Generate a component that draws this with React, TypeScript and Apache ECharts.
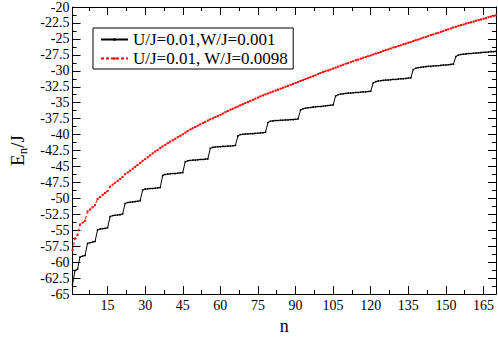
import { useEffect, useRef } from "react";
import * as echarts from "echarts";

// Energy levels E_n/J for n = 1..170
const blackE = [
  -63.5,
  -61.3, -61.1,
  -59.2, -59.05, -58.95,
  -57.05, -56.95, -56.85, -56.75,
  -54.95, -54.8, -54.75, -54.7, -54.6,
  -52.85, -52.7, -52.65, -52.6, -52.55, -52.45,
  -50.8, -50.65, -50.6, -50.55, -50.5, -50.45, -50.35,
  -48.7, -48.55, -48.5, -48.45, -48.45, -48.4, -48.35, -48.3,
  -46.4, -46.25, -46.2, -46.15, -46.1, -46.1, -46.05, -46.0, -45.95,
  -44.25, -44.1, -44.05, -44.0, -44.0, -43.95, -43.9, -43.9, -43.85, -43.8,
  -42.15, -42.0, -41.95, -41.9, -41.9, -41.85, -41.85, -41.8, -41.8, -41.75, -41.7,
  -40.2, -40.0, -39.95, -39.9, -39.9, -39.85, -39.85, -39.8, -39.8, -39.75, -39.7, -39.65,
  -38.1, -37.9, -37.85, -37.8, -37.8, -37.75, -37.75, -37.7, -37.7, -37.65, -37.65, -37.6, -37.55,
  -36.15, -35.95, -35.85, -35.8, -35.75, -35.7, -35.65, -35.6, -35.6, -35.55, -35.5, -35.45, -35.4, -35.35,
  -33.95, -33.75, -33.65, -33.6, -33.55, -33.5, -33.5, -33.45, -33.4, -33.4, -33.35, -33.3, -33.3, -33.25, -33.2,
  -31.9, -31.7, -31.6, -31.55, -31.5, -31.45, -31.45, -31.4, -31.35, -31.35, -31.3, -31.25, -31.25, -31.2, -31.15, -31.1,
  -29.8, -29.6, -29.5, -29.45, -29.4, -29.35, -29.3, -29.3, -29.25, -29.2, -29.2, -29.15, -29.1, -29.1, -29.05, -29.0, -28.95,
  -27.75, -27.55, -27.45, -27.4, -27.35, -27.3, -27.3, -27.25, -27.2, -27.2, -27.15, -27.1, -27.1, -27.05, -27.0, -27.0, -26.95,
];

const redE = [
  -58.1, -56.3, -55.75, -54.1, -53.8, -53.5, -52.05, -51.75, -51.4, -51.05,
  -50.1, -49.8, -49.45, -49.15, -48.85, -48.15, -47.85, -47.55, -47.25, -46.95,
  -46.65, -46.2, -45.95, -45.65, -45.35, -45.05, -44.75, -44.45, -44.1, -43.85,
  -43.55, -43.25, -42.95, -42.65, -42.4, -42.1, -41.85, -41.6, -41.35, -41.1,
  -40.9, -40.65, -40.4, -40.2, -39.95, -39.7, -39.45, -39.2, -39.0, -38.8,
  -38.6, -38.4, -38.2, -38.0, -37.8, -37.6, -37.45, -37.25, -37.1, -36.9,
  -36.7, -36.5, -36.3, -36.1, -35.95, -35.75, -35.6, -35.4, -35.25, -35.05,
  -34.9, -34.7, -34.55, -34.35, -34.2, -34.0, -33.85, -33.7, -33.55, -33.4,
  -33.25, -33.1, -32.95, -32.8, -32.65, -32.5, -32.35, -32.2, -32.05, -31.9,
  -31.75, -31.6, -31.45, -31.3, -31.15, -31.0, -30.85, -30.7, -30.5, -30.35,
  -30.2, -30.05, -29.95, -29.8, -29.65, -29.5, -29.35, -29.2, -29.05, -28.9,
  -28.8, -28.65, -28.5, -28.35, -28.25, -28.1, -27.95, -27.85, -27.7, -27.6,
  -27.45, -27.3, -27.2, -27.05, -26.9, -26.75, -26.65, -26.5, -26.35, -26.25,
  -26.1, -26.0, -25.85, -25.75, -25.6, -25.5, -25.35, -25.2, -25.1, -24.95,
  -24.8, -24.7, -24.55, -24.4, -24.3, -24.15, -24.05, -23.9, -23.75, -23.6,
  -23.5, -23.35, -23.2, -23.1, -22.95, -22.85, -22.75, -22.6, -22.5, -22.4,
  -22.3, -22.15, -22.05, -21.95, -21.85, -21.75, -21.6, -21.5, -21.4, -21.3,
];

const seriesNames = ["U/J=0.01,W/J=0.001", "U/J=0.01, W/J=0.0098"];
const xMajorTicks = [15, 30, 45, 60, 75, 90, 105, 120, 135, 150, 165];
const xMinorTicks = [7.5, 22.5, 37.5, 52.5, 67.5, 82.5, 97.5, 112.5, 127.5, 142.5, 157.5];

const FONT = "Liberation Serif";

function xAxisDef(position: string, ticks: number[], len: number, showLine: boolean, showLabel: boolean) {
  return {
    type: "value",
    position,
    min: 1,
    max: 170,
    axisLine: { show: showLine, onZero: false, lineStyle: { color: "#000", width: 1 } },
    axisTick: { show: true, inside: true, length: len, customValues: ticks, lineStyle: { color: "#000", width: 1 } },
    axisLabel: {
      show: showLabel,
      customValues: ticks,
      margin: 4,
      fontFamily: FONT,
      fontSize: 14,
      color: "#000",
    },
    splitLine: { show: false },
  };
}

function yAxisDef(position: string, showLabel: boolean) {
  return {
    type: "value",
    position,
    min: -65,
    max: -20,
    interval: 2.5,
    axisLine: { show: true, onZero: false, lineStyle: { color: "#000", width: 1 } },
    axisTick: { show: true, inside: true, length: 8, lineStyle: { color: "#000", width: 1 } },
    minorTick: { show: true, splitNumber: 2, length: 4, lineStyle: { color: "#000", width: 1 } },
    axisLabel: { show: showLabel, margin: 3, fontFamily: FONT, fontSize: 14, color: "#000" },
    splitLine: { show: false },
    minorSplitLine: { show: false },
  };
}

export default function App() {
  const ref = useRef<HTMLDivElement>(null);
  useEffect(() => {
    if (!ref.current) return;
    const chart = echarts.init(ref.current, null, { renderer: "svg" });
    const blackData = blackE.map((v, i) => [i + 1, v]);
    const redData = redE.map((v, i) => [i + 1, v]);
    chart.setOption({
      animation: false,
      backgroundColor: "#fff",
      grid: { left: 59, right: 2, top: 6, bottom: 29 },
      legend: {
        data: seriesNames,
        orient: "vertical",
        left: 93,
        top: 28,
        itemWidth: 27,
        itemHeight: 3,
        itemGap: 0,
        padding: [2, 5, 1, 7],
        borderColor: "#000",
        borderWidth: 1,
        borderRadius: 0,
        backgroundColor: "#fff",
        textStyle: { fontFamily: FONT, fontSize: 17, color: "#000", lineHeight: 19 },
      },
      xAxis: [
        { ...xAxisDef("bottom", xMajorTicks, 8, true, true), name: "n", nameLocation: "middle", nameGap: 13,
          nameTextStyle: { fontFamily: FONT, fontSize: 18, color: "#000" } },
        xAxisDef("bottom", xMinorTicks, 4, false, false),
        xAxisDef("top", xMajorTicks, 8, true, false),
        xAxisDef("top", xMinorTicks, 4, false, false),
      ],
      yAxis: [
        {
          ...yAxisDef("left", true),
          name: "{e|E}{s|n}{e|/J}",
          nameLocation: "middle",
          nameRotate: 90,
          nameGap: 44,
          nameTextStyle: {
            rich: {
              e: { fontFamily: FONT, fontSize: 19, color: "#000", lineHeight: 22, verticalAlign: "middle" },
              s: { fontFamily: FONT, fontSize: 13, color: "#000", lineHeight: 12, verticalAlign: "bottom" },
            },
          },
        },
        yAxisDef("right", false),
      ],
      series: [
        {
          name: seriesNames[0],
          type: "line",
          xAxisIndex: 0,
          yAxisIndex: 0,
          data: blackData,
          symbol: "rect",
          symbolSize: 1.6,
          lineStyle: { color: "#000", width: 1 },
          itemStyle: { color: "#000" },
        },
        {
          name: seriesNames[1],
          type: "line",
          xAxisIndex: 0,
          yAxisIndex: 0,
          data: redData,
          symbol: "rect",
          symbolSize: 2,
          lineStyle: { color: "#ff0000", width: 1, type: [3, 2] },
          itemStyle: { color: "#ff0000" },
        },
      ],
    });
    return () => chart.dispose();
  }, []);
  return (
    <div
      ref={ref}
      style={{ position: "fixed", left: 0, top: 0, width: 498, height: 340, background: "#fff" }}
    />
  );
}
